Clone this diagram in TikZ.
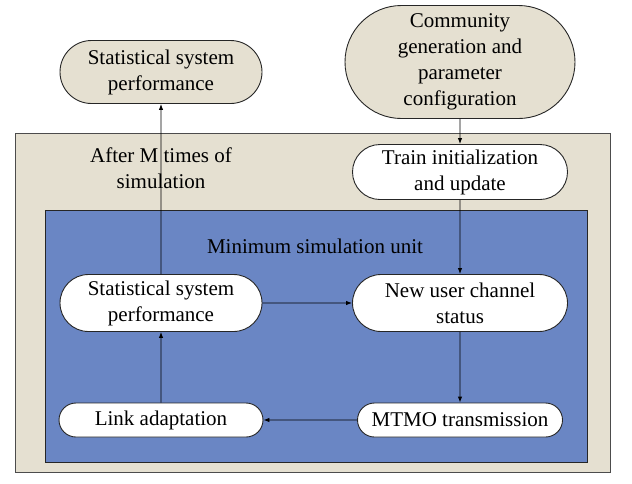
\documentclass[tikz,border=0pt]{standalone}
\usepackage{fontspec}
\setmainfont{Liberation Serif}
\usetikzlibrary{shapes.misc,arrows.meta}
\definecolor{sand}{RGB}{229,224,209}
\definecolor{unitblue}{RGB}{106,134,196}
\tikzset{
  pill/.style={rounded rectangle,draw=black!85,align=center,inner sep=0pt,
    font=\fontsize{21}{26}\selectfont},
  label/.style={align=center,font=\fontsize{21}{26}\selectfont},
}

\begin{document}
\begin{tikzpicture}[x=1pt,y=-1pt,>={Latex[length=6pt,width=4.5pt]},line width=0.9pt]
\useasboundingbox (0,0) rectangle (632,483);
% outer loop and the simulation unit inside it
\draw[fill=sand,draw=black!70] (15,133) rectangle (610,472);
\draw[fill=unitblue,draw=black!85] (45,210) rectangle (587,462);
\node[pill,fill=sand,minimum width=202pt,minimum height=63pt] (perfout) at (161,72) {Statistical system\\performance};
\node[pill,fill=sand,minimum width=230pt,minimum height=113pt] (config) at (460,62) {Community\\generation and\\parameter\\configuration};
\node[pill,fill=white,minimum width=215pt,minimum height=55pt] (train) at (460,172) {Train initialization\\and update};
\node[label] (loop) at (161,168) {After M times of\\simulation};
\node[label] (unit) at (315,246) {Minimum simulation unit};
\node[pill,fill=white,minimum width=202pt,minimum height=57pt] (perf) at (161,303) {Statistical system\\performance};
\node[pill,fill=white,minimum width=215pt,minimum height=57pt] (channel) at (460,303) {New user channel\\status};
\node[pill,fill=white,minimum width=204pt,minimum height=34pt] (link) at (161,420) {Link adaptation};
\node[pill,fill=white,minimum width=205pt,minimum height=34pt] (mtmo) at (460,420) {MTMO transmission};
% flow
\draw[->] (config) -- (train);
\draw[->] (train) -- (channel);
\draw[->] (perf) -- (channel);
\draw[->] (channel) -- (mtmo);
\draw[->] (mtmo) -- (link);
\draw[->] (link) -- (perf);
\draw[->] (perf) -- (perfout);
\end{tikzpicture}
\end{document}
